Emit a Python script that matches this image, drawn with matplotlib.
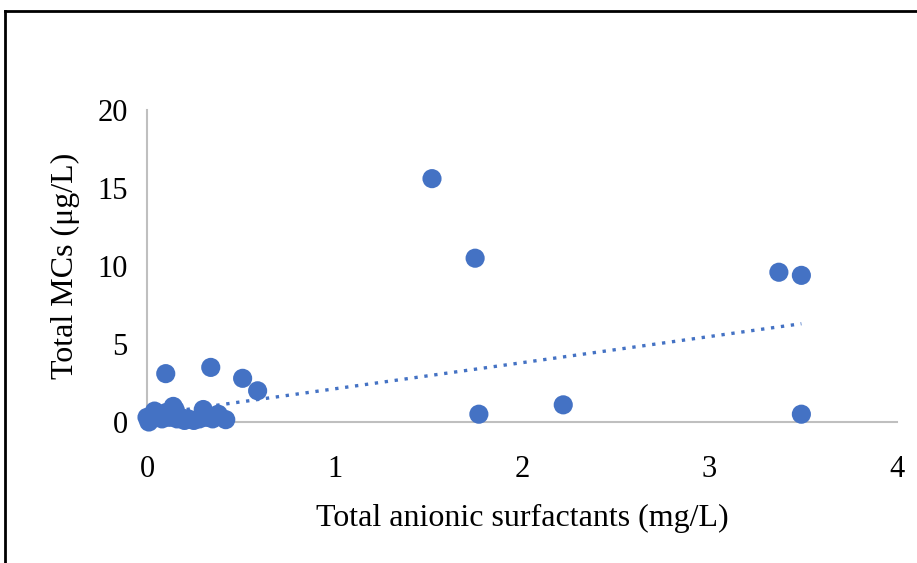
import matplotlib
matplotlib.use("Agg")
import matplotlib.pyplot as plt
from matplotlib.lines import Line2D

plt.rcParams['font.family'] = ['Liberation Serif', 'DejaVu Serif']

x_vals = [1.52, 1.75, 3.37, 3.49, 3.49, 1.77, 2.22, 0.10, 0.34, 0.51, 0.59,
          0.00, 0.01, 0.02, 0.04, 0.05, 0.07, 0.08, 0.10, 0.12, 0.14, 0.15,
          0.16, 0.18, 0.20, 0.22, 0.25, 0.28, 0.30, 0.32, 0.35, 0.38, 0.42]
y_vals = [15.6, 10.5, 9.6, 9.4, 0.5, 0.5, 1.1, 3.1, 3.5, 2.8, 2.0,
          0.3, 0.0, 0.2, 0.7, 0.5, 0.4, 0.2, 0.6, 0.3, 1.0, 0.8,
          0.2, 0.3, 0.1, 0.2, 0.1, 0.2, 0.8, 0.3, 0.2, 0.5, 0.15]
# linear trendline
trend_x = [0.0, 3.49]
trend_y = [0.45, 6.3]
x_ticks = [0, 1, 2, 3, 4]
y_ticks = [0, 5, 10, 15, 20]

blue = '#4472C4'
fig = plt.figure(figsize=(9.17, 5.63), dpi=100)
ax = fig.add_axes([147/917, 1-422/563, 750/917, 312/563])

ax.scatter(x_vals, y_vals, s=190, color=blue, edgecolors='none', zorder=3, clip_on=False)
ax.plot(trend_x, trend_y, linestyle=(0, (1, 2)), color=blue, lw=2.4, zorder=2)

ax.set_xlim(0, 4)
ax.set_ylim(0, 20)
ax.set_xticks(x_ticks)
ax.set_yticks(y_ticks)
for s in ['top', 'right']:
    ax.spines[s].set_visible(False)
for s in ['left', 'bottom']:
    ax.spines[s].set_color('#BFBFBF')
    ax.spines[s].set_linewidth(1.5)
ax.tick_params(length=0, labelsize=22)
ax.tick_params(axis='x', pad=24)
ax.tick_params(axis='y', pad=14)
ax.set_xlabel('Total anionic surfactants (mg/L)', fontsize=23, labelpad=14)
ax.set_ylabel('Total MCs (μg/L)', fontsize=23, labelpad=12)

fig.add_artist(Line2D([5/917, 1], [1-11/563, 1-11/563], color='black', lw=2, transform=fig.transFigure))
fig.add_artist(Line2D([5/917, 5/917], [0, 1-11/563], color='black', lw=2, transform=fig.transFigure))

fig.savefig('out.png', dpi=100)
